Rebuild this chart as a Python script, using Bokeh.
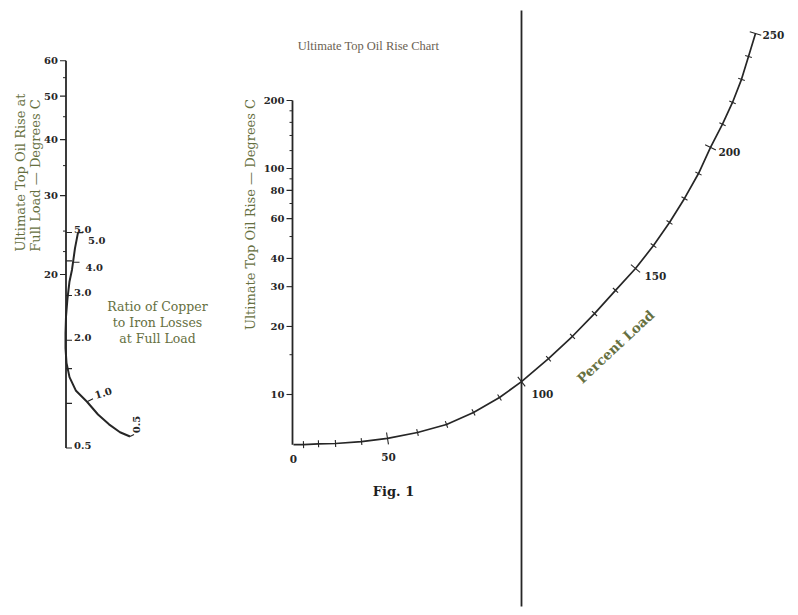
import numpy as np
from bokeh.plotting import figure
from bokeh.models import Range1d
from bokeh.embed import file_html
from bokeh.resources import INLINE
from bokeh.core.properties import value

# ---------------- data ----------------
# left stem: ultimate top oil rise at full load (deg C)
full_load_major = [20, 30, 40, 50, 60]
full_load_minor = [22.5, 25, 35, 45, 55]
# copper / iron loss ratio marked on the same stem
ratio_ticks = [0.5, 1.0, 1.5, 2.0, 3.0, 4.0, 5.0]
ratio_labels = [0.5, 2.0, 3.0, 5.0]
# ratio curve: reading on the full-load scale and offset from the stem
ratio_curve_rise = [24.8, 22.9, 20.5, 19.3, 17.7, 16.1, 14.8, 13.7, 12.7,
                    11.8, 11.0, 10.4, 9.74, 9.26, 8.89, 8.70]
ratio_curve_dx = [12, 9, 6, 3.5, 1.5, 0, -0.5, -0.5, 0.5, 3.5, 10, 21, 32,
                  43, 54, 64]
ratio_marks = [5.0, 4.0, 1.0, 0.5]
ratio_mark_rise = [24.8, 21.3, 10.4, 8.70]
ratio_mark_dx = [12, 7.5, 21, 64]

# main stem: ultimate top oil rise (deg C)
main_major = [10, 20, 30, 40, 60, 80, 100, 200]
main_minor = [15, 50, 70, 90, 120, 140, 160, 180]

# percent load curve
load_pct = [0, 10, 20, 30, 40, 50, 60, 70, 80, 90, 100, 110, 120, 130, 140,
            150, 160, 170, 180, 190, 200, 210, 220, 230, 240, 250]
load_rise = [6.0, 6.0, 6.05, 6.07, 6.19, 6.39, 6.79, 7.37, 8.33, 9.70, 11.4,
             14.4, 18.1, 22.8, 28.9, 36.1, 45.6, 57.7, 73.7, 95.0, 124, 157,
             196, 248, 313, 396]
load_x = [293, 303, 318, 335, 361, 387, 417, 446, 473, 499, 521, 548, 572,
          594, 615, 635, 653, 669, 684, 698, 710, 722, 732, 741, 748, 755]
load_labels = [0, 50, 100, 150, 200, 250]

# ---------------- scales ----------------
STEM_X = 65.5
MAIN_X = 292.0


def y_left(v):
    return 274 - 448 * np.log10(np.asarray(v, float) / 20.0)


def y_ratio(r):
    return 510.6 - 358 * np.log10(np.asarray(r, float) + 1.0)


def y_main(v):
    return 394 - 226 * np.log10(np.asarray(v, float) / 10.0)


INK = "#262626"
OLIVE = "#66703f"
TITLE = "#6b6152"
SERIF = value("DejaVu Serif")

p = figure(width=790, height=607, x_range=Range1d(0, 790),
           y_range=Range1d(607, 0), x_axis_type=None, y_axis_type=None,
           toolbar_location=None, output_backend="svg", min_border=0)
p.outline_line_color = None
p.background_fill_color = "white"
p.border_fill_color = "white"


def num_text(xs, ys, texts, align="right", size="10px", angle=0.0,
             color=INK, style="bold", font=SERIF):
    p.text(x=list(xs), y=list(ys), text=list(texts), text_font=font,
           text_font_size=size, text_font_style=style, text_color=color,
           text_align=align, text_baseline="middle", angle=angle)


# ---------------- left stem ----------------
top = float(y_left(60))
bot = float(y_ratio(0.5))
p.segment(x0=[STEM_X], y0=[top], x1=[STEM_X], y1=[bot], line_color=INK,
          line_width=1.8)
yl = y_left(full_load_major)
p.segment(x0=[STEM_X - 6] * len(yl), y0=yl, x1=[STEM_X] * len(yl), y1=yl,
          line_color=INK, line_width=1.2)
ylm = y_left(full_load_minor)
p.segment(x0=[STEM_X - 3] * len(ylm), y0=ylm, x1=[STEM_X] * len(ylm), y1=ylm,
          line_color=INK, line_width=1.0)
num_text([STEM_X - 8] * len(yl), yl, [str(v) for v in full_load_major])

yr = y_ratio(ratio_ticks)
p.segment(x0=[STEM_X] * len(yr), y0=yr, x1=[STEM_X + 6] * len(yr), y1=yr,
          line_color=INK, line_width=1.1)
yrl = y_ratio(ratio_labels)
num_text([STEM_X + 8] * len(yrl), yrl - 3, [f"{v:.1f}" for v in ratio_labels],
         align="left")

# ratio curve
cx = STEM_X + np.array(ratio_curve_dx, float)
cy = y_left(ratio_curve_rise)
p.line(cx, cy, line_color=INK, line_width=2.0)
mx = STEM_X + np.array(ratio_mark_dx, float)
my = y_left(ratio_mark_rise)
p.segment(x0=mx, y0=my, x1=mx + np.array([5, 6, 6, 4]),
          y1=my + np.array([0, 0, -3, -2]), line_color=INK, line_width=1.1)
num_text(mx[:3] + np.array([10, 12, 8]), my[:3] + np.array([8, 5, -6]),
         [f"{v:.1f}" for v in ratio_marks[:3]], align="left",
         angle=[0.0, 0.0, 0.3])
num_text([mx[3] + 6], [my[3] - 12], [f"{ratio_marks[3]:.1f}"], align="center",
         angle=np.pi / 2)

# left titles
p.text(x=[20, 35], y=[172, 175],
       text=["Ultimate Top Oil Rise at", "Full Load \u2014 Degrees C"],
       text_font=SERIF, text_font_size="13px", text_color=OLIVE,
       text_align="center", text_baseline="middle", angle=np.pi / 2)
p.text(x=[157, 157, 157], y=[306, 322, 338],
       text=["Ratio of Copper", "to Iron Losses", "at Full Load"],
       text_font=SERIF, text_font_size="12.5px", text_color=OLIVE,
       text_align="center", text_baseline="middle")

# ---------------- main stem ----------------
ym_top = float(y_main(200))
ym_bot = float(y_main(load_rise[0]))
p.segment(x0=[MAIN_X], y0=[ym_top], x1=[MAIN_X], y1=[ym_bot], line_color=INK,
          line_width=1.8)
ym = y_main(main_major)
p.segment(x0=[MAIN_X - 6] * len(ym), y0=ym, x1=[MAIN_X] * len(ym), y1=ym,
          line_color=INK, line_width=1.1)
ymm = y_main(main_minor)
p.segment(x0=[MAIN_X - 3] * len(ymm), y0=ymm, x1=[MAIN_X] * len(ymm), y1=ymm,
          line_color=INK, line_width=1.0)
num_text([MAIN_X - 8] * len(ym), ym, [str(v) for v in main_major])

p.text(x=[250], y=[214], text=["Ultimate Top Oil Rise \u2014 Degrees C"],
       text_font=SERIF, text_font_size="13px", text_color=OLIVE,
       text_align="center", text_baseline="middle", angle=np.pi / 2)
p.text(x=[368], y=[45], text=["Ultimate Top Oil Rise Chart"],
       text_font=value("Liberation Serif"), text_font_size="12.5px",
       text_color=TITLE, text_align="center", text_baseline="middle")

# ---------------- percent load curve ----------------
lx = np.array(load_x, float)
ly = y_main(load_rise)
# vertical index line through the 100 % point
x100 = lx[load_pct.index(100)]
p.segment(x0=[x100], y0=[10], x1=[x100], y1=[606], line_color=INK,
          line_width=1.8)
p.line(lx, ly, line_color=INK, line_width=1.7)
tx = np.gradient(lx)
ty = np.gradient(ly)
nrm = np.hypot(tx, ty)
nx, ny = -ty / nrm, tx / nrm
half = np.array([6.0 if v % 50 == 0 else 3.5 for v in load_pct])
sel = np.array(load_pct) > 0
p.segment(x0=(lx - nx * half)[sel], y0=(ly - ny * half)[sel],
          x1=(lx + nx * half)[sel], y1=(ly + ny * half)[sel],
          line_color=INK, line_width=1.1)

idx = [load_pct.index(v) for v in load_labels]
off_x = np.array([0, 1, 14, 13, 12, 11])
off_y = np.array([14, 19, 12, 7, 5, 2])
align = ["center", "center", "left", "left", "left", "left"]
for k, i in enumerate(idx):
    num_text([lx[i] + off_x[k] - (0 if align[k] == "center" else 4)],
             [ly[i] + off_y[k]], [str(load_labels[k])], align=align[k],
             size="10.5px")

p.text(x=[615], y=[346], text=["Percent Load"], text_font=SERIF,
       text_font_size="13.5px", text_font_style="bold", text_color=OLIVE,
       text_align="center", text_baseline="middle", angle=np.deg2rad(43))

p.text(x=[393], y=[491], text=["Fig. 1"], text_font=SERIF,
       text_font_size="13px", text_font_style="bold", text_color="#1e1e1e",
       text_align="center", text_baseline="middle")

open("out.html", "w").write(file_html(p, INLINE))
